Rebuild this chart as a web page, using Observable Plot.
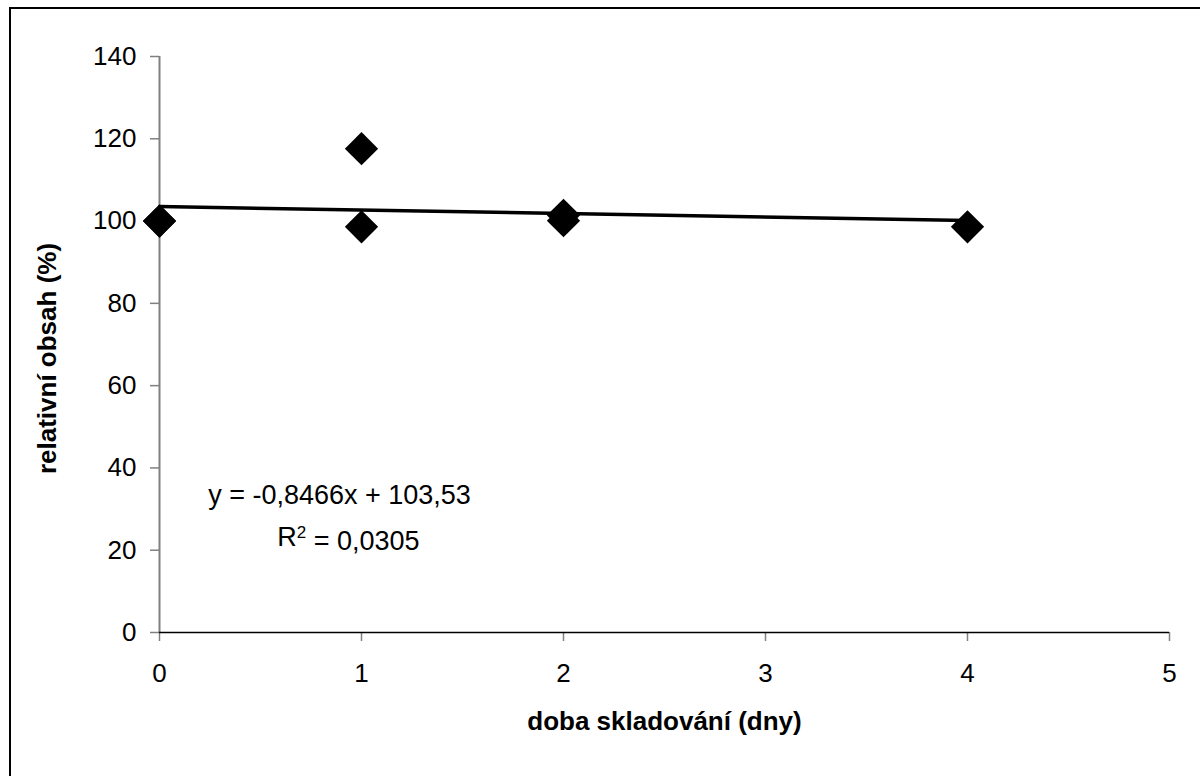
<!DOCTYPE html>
<html>
<head>
<meta charset="utf-8">
<script src="https://cdn.jsdelivr.net/npm/d3@7"></script>
<script src="https://cdn.jsdelivr.net/npm/@observablehq/plot@0.6"></script>
<style>
  html, body { margin: 0; padding: 0; background: #fff; overflow: hidden; }
  #wrap { position: relative; width: 1200px; height: 776px; }
  #frame { position: absolute; left: 9px; top: 7px; width: 1300px; height: 900px; border: 2px solid #000; box-sizing: border-box; pointer-events: none; }
  #chart { position: absolute; left: 0; top: 0; }
</style>
</head>
<body>
<div id="wrap"><div id="chart"></div><div id="frame"></div></div>
<script>
// Data
const days   = [0, 0, 1, 1, 2, 2, 4];
const values = [100, 100, 117.6, 98.6, 101.4, 100.1, 98.6];
// Trend line as shown on the chart
const slope = -0.8466;
const intercept = 103.53;
const trendRange = [0, 4];
const xTicks = [0, 1, 2, 3, 4, 5];
const yTicks = [0, 20, 40, 60, 80, 100, 120, 140];
const xTitle = "doba skladování (dny)";
const yTitle = "relativní obsah (%)";
const eqText = "y = -0,8466x + 103,53";
const r2Text = "R² = 0,0305";
const eqPos = {x: 0.241, y: 33.4};
const r2Pos = {x: 0.583, y: 23.2};

const points = days.map((d, i) => ({x: d, y: values[i]}));
const trend = trendRange.map(x => ({x, y: slope * x + intercept}));

const chart = Plot.plot({
  width: 1200,
  height: 776,
  marginLeft: 159,
  marginRight: 31,
  marginTop: 56,
  marginBottom: 144,
  style: {fontFamily: "'Liberation Sans', Arial, sans-serif", fontSize: "26px", color: "#000", background: "transparent", overflow: "visible"},
  x: {domain: [0, 5]},
  y: {domain: [0, 140]},
  marks: [
    Plot.axisX({ticks: xTicks, tickSize: 9, tickPadding: 22, stroke: "#808080", strokeWidth: 1.5, label: null, fontSize: 26, tickFormat: d => String(d)}),
    Plot.axisY({ticks: yTicks, tickSize: 9, tickPadding: 14, stroke: "#808080", strokeWidth: 1.5, label: null, fontSize: 26, tickFormat: d => String(d)}),
    Plot.ruleX([0], {stroke: "#808080", strokeWidth: 2}),
    Plot.ruleY([0], {stroke: "#000", strokeWidth: 1.5}),
    Plot.line(trend, {x: "x", y: "y", stroke: "#000", strokeWidth: 3.5}),
    Plot.dot(points, {x: "x", y: "y", symbol: "diamond2", r: 15, fill: "#000", stroke: "none"}),
    Plot.text([eqText], {x: eqPos.x, y: eqPos.y, text: d => d, textAnchor: "start", fontSize: 27, fill: "#000"}),
    Plot.text([r2Text], {x: r2Pos.x, y: r2Pos.y, text: d => d, textAnchor: "start", fontSize: 27, fill: "#000", className: "r2label"}),
    Plot.text([xTitle], {frameAnchor: "bottom", textAnchor: "middle", dy: 97, text: d => d, fontSize: 26, fontWeight: "bold", fill: "#000", letterSpacing: "2px"}),
    Plot.text([yTitle], {frameAnchor: "left", textAnchor: "middle", dx: -112, dy: 14, text: d => d, rotate: -90, fontSize: 26, fontWeight: "bold", fill: "#000", letterSpacing: "2.5px"})
  ]
});
// Render the "2" of R² as a true superscript
d3.select(chart).selectAll("text").each(function() {
  const t = d3.select(this);
  if (t.text() === r2Text) {
    const [head, tail] = r2Text.split("²");
    t.text(null);
    t.append("tspan").text(head);
    t.append("tspan").attr("dy", "-0.45em").attr("font-size", "17px").text("2");
    t.append("tspan").attr("dy", "0.45em").text(tail);
  }
});
document.getElementById("chart").appendChild(chart);
</script>
</body>
</html>
